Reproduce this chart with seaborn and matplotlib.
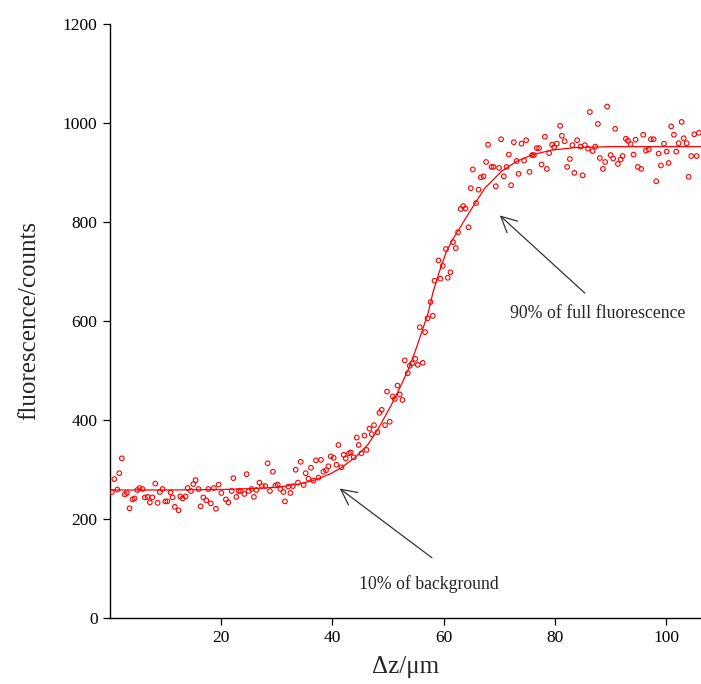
import matplotlib
matplotlib.use("Agg")
import matplotlib.pyplot as plt
import seaborn as sns
import pandas as pd

# measured data (position in um, fluorescence counts)
dz = [0.32, 0.76, 1.30, 1.66, 2.12, 2.66, 3.02, 3.51, 4.05, 4.41, 4.90, 5.31, 5.85, 6.26, 6.75,
      7.16, 7.60, 8.14, 8.55, 8.96, 9.45, 9.94, 10.30, 10.89, 11.25, 11.66, 12.33, 12.64, 13.05, 13.59,
      13.95, 14.54, 14.98, 15.39, 15.93, 16.29, 16.78, 17.32, 17.68, 18.14, 18.68, 19.04, 19.53, 20.02,
      20.84, 21.28, 21.87, 22.18, 22.72, 23.13, 23.49, 24.16, 24.57, 24.93, 25.47, 25.88, 26.32, 26.86,
      27.32, 27.94, 28.35, 28.76, 29.30, 29.74, 30.15, 30.64, 31.18, 31.46, 32.08, 32.44, 32.90, 33.39,
      33.80, 34.29, 34.83, 35.19, 35.68, 36.14, 36.58, 37.04, 37.48, 37.94, 38.38, 38.84, 39.28, 39.69,
      40.23, 40.72, 41.08, 41.62, 42.03, 42.39, 42.98, 43.29, 43.83, 44.37, 44.73, 45.22, 45.76, 46.12,
      46.66, 47.07, 47.48, 48.10, 48.46, 48.87, 49.46, 49.82, 50.31, 50.85, 51.21, 51.70, 52.11, 52.60,
      53.01, 53.55, 53.91, 54.32, 54.90, 55.35, 55.71, 56.25, 56.66, 57.11, 57.65, 58.05, 58.37, 59.08,
      59.44, 59.85, 60.43, 60.75, 61.24, 61.69, 62.19, 62.60, 63.09, 63.50, 63.94, 64.48, 64.89, 65.25,
      65.84, 66.28, 66.69, 67.18, 67.64, 68.00, 68.62, 68.98, 69.39, 69.98, 70.34, 70.83, 71.32, 71.73,
      72.14, 72.63, 73.12, 73.48, 74.02, 74.48, 74.84, 75.46, 75.92, 76.23, 76.77, 77.18, 77.62, 78.21,
      78.57, 78.98, 79.52, 79.88, 80.37, 80.96, 81.27, 81.76, 82.22, 82.71, 83.16, 83.52, 84.02, 84.64,
      85.00, 85.41, 85.95, 86.31, 86.80, 87.26, 87.75, 88.11, 88.65, 89.06, 89.42, 90.04, 90.50, 90.86,
      91.35, 91.84, 92.20, 92.79, 93.15, 93.64, 94.18, 94.54, 94.95, 95.54, 95.90, 96.39, 96.93, 97.29,
      97.78, 98.24, 98.68, 99.09, 99.63, 100.12, 100.48, 100.94, 101.43, 101.84, 102.28, 102.82, 103.18,
      103.72, 104.08, 104.54, 105.08, 105.52, 105.93]
counts = [254, 280, 259, 292, 322, 249, 252, 221, 239, 241, 258, 262, 260, 243, 244,
          233, 243, 271, 232, 254, 260, 235, 235, 253, 243, 224, 217, 245, 241, 245,
          262, 256, 270, 278, 260, 225, 243, 237, 260, 231, 262, 220, 269, 252,
          239, 233, 256, 282, 244, 256, 256, 250, 290, 256, 260, 244, 258, 273,
          266, 266, 312, 256, 295, 267, 269, 260, 254, 235, 265, 252, 266, 299,
          273, 315, 268, 292, 281, 303, 277, 318, 283, 319, 295, 298, 306, 326,
          323, 309, 349, 304, 329, 322, 332, 334, 324, 364, 349, 332, 368, 339,
          382, 371, 389, 375, 414, 420, 389, 457, 396, 447, 442, 469, 451, 440,
          520, 494, 509, 514, 523, 511, 587, 515, 577, 605, 638, 610, 681, 722,
          685, 711, 745, 687, 698, 759, 747, 779, 826, 832, 827, 789, 868, 906,
          838, 865, 890, 892, 921, 956, 911, 911, 872, 909, 967, 892, 911, 936,
          874, 961, 923, 897, 958, 924, 965, 901, 935, 935, 949, 949, 916, 972,
          907, 939, 956, 951, 958, 994, 974, 963, 911, 927, 955, 899, 965, 952,
          894, 955, 948, 1022, 943, 952, 998, 929, 907, 921, 1033, 935, 928, 988,
          917, 926, 933, 968, 964, 957, 936, 966, 911, 907, 976, 944, 946, 967,
          967, 882, 938, 914, 958, 942, 919, 993, 976, 942, 959, 1002, 969,
          959, 891, 933, 977, 933, 980]

# fitted curve
fit_dz = [0, 10, 20, 26, 30.5, 34, 36.5, 39.5, 41.6, 44.3, 46.4, 48.3, 50.6, 52.1, 53.6,
          55.1, 56.3, 57.2, 58.1, 59.2, 60.4, 61.5, 62.6, 64.4, 65.8, 67.4, 70.4, 73.1,
          75.8, 79.4, 83.6, 90, 100, 107]
fit_counts = [258, 258, 259, 261, 264, 270, 277, 290, 303, 326, 350, 383, 430, 464, 500,
              545, 585, 615, 658, 698, 737, 762, 782, 815, 840, 868, 902, 922,
              935, 945, 950, 952, 952, 952]

x_ticks = [20, 40, 60, 80, 100]
y_ticks = [0, 200, 400, 600, 800, 1000, 1200]

sns.set_theme(style="ticks")
plt.rcParams["font.family"] = ["Liberation Serif", "DejaVu Serif"]

fig = plt.figure(figsize=(7.01, 6.84), dpi=100)
ax = fig.add_axes([0.157, 0.097, 0.843, 0.868])

df = pd.DataFrame({"dz": dz, "counts": counts})
fit = pd.DataFrame({"dz": fit_dz, "counts": fit_counts})

sns.lineplot(data=fit, x="dz", y="counts", color="#ff0000", linewidth=0.9, ax=ax, zorder=2)
sns.scatterplot(data=df, x="dz", y="counts", marker="o", s=11, facecolors="none",
                edgecolor="#ff0000", linewidth=0.8, ax=ax, zorder=3)

ax.set_xlim(0, 106.3)
ax.set_ylim(0, 1200)
ax.set_xticks(x_ticks)
ax.set_yticks(y_ticks)
ax.tick_params(labelsize=12.5, length=5, width=0.9, colors="black", pad=4)
for side in ["top", "right"]:
    ax.spines[side].set_visible(False)
for side in ["left", "bottom"]:
    ax.spines[side].set_linewidth(1.0)
    ax.spines[side].set_color("black")

ax.set_xlabel("Δz/μm", fontsize=18, labelpad=7)
ax.set_ylabel("fluorescence/counts", fontsize=18, labelpad=16)

arrow = dict(arrowstyle="->", color="#333333", lw=0.9, mutation_scale=28,
             shrinkA=0, shrinkB=0)
ax.annotate("", xy=(70.1, 813), xytext=(85.4, 656), arrowprops=arrow)
ax.annotate("", xy=(41.3, 261), xytext=(57.9, 121), arrowprops=arrow)
ax.text(87.7, 615, "90% of full fluorescence", fontsize=12.8, ha="center", va="center")
ax.text(57.3, 67, "10% of background", fontsize=12.8, ha="center", va="center")

fig.savefig("out.png", dpi=100)
